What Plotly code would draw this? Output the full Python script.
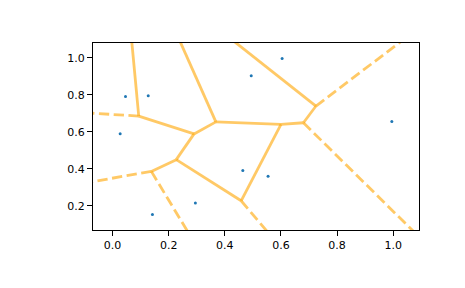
import numpy as np
import plotly.graph_objects as go
from itertools import combinations

# Input sites
px = [0.046, 0.127, 0.027, 0.142, 0.295, 0.604, 0.494, 0.995, 0.464, 0.554]
py = [0.790, 0.795, 0.590, 0.154, 0.215, 0.995, 0.903, 0.655, 0.391, 0.360]
tick_vals = [0.0, 0.2, 0.4, 0.6, 0.8, 1.0]

pts = np.column_stack([px, py]).astype(float)
n = len(pts)


def circumcenter(a, b, c):
    d = 2 * (a[0] * (b[1] - c[1]) + b[0] * (c[1] - a[1]) + c[0] * (a[1] - b[1]))
    if abs(d) < 1e-12:
        return None
    ux = ((a @ a) * (b[1] - c[1]) + (b @ b) * (c[1] - a[1]) + (c @ c) * (a[1] - b[1])) / d
    uy = ((a @ a) * (c[0] - b[0]) + (b @ b) * (a[0] - c[0]) + (c @ c) * (b[0] - a[0])) / d
    return np.array([ux, uy])


# Brute-force Delaunay triangulation
tris, centers = [], []
for i, j, k in combinations(range(n), 3):
    cc = circumcenter(pts[i], pts[j], pts[k])
    if cc is None:
        continue
    r = np.linalg.norm(pts[i] - cc)
    ok = True
    for m in range(n):
        if m in (i, j, k):
            continue
        if np.linalg.norm(pts[m] - cc) < r - 1e-12:
            ok = False
            break
    if ok:
        tris.append((i, j, k))
        centers.append(cc)

edge_tris = {}
for t_idx, (i, j, k) in enumerate(tris):
    for e in ((i, j), (j, k), (i, k)):
        e = tuple(sorted(e))
        edge_tris.setdefault(e, []).append(t_idx)

center = pts.mean(axis=0)
ptp_bound = np.ptp(pts, axis=0)

fin_x, fin_y, inf_x, inf_y = [], [], [], []
for (a, b), tl in edge_tris.items():
    if len(tl) == 2:
        v0, v1 = centers[tl[0]], centers[tl[1]]
        fin_x += [v0[0], v1[0], None]
        fin_y += [v0[1], v1[1], None]
    else:
        v = centers[tl[0]]
        t = pts[b] - pts[a]
        t = t / np.linalg.norm(t)
        nn = np.array([-t[1], t[0]])
        mid = pts[[a, b]].mean(axis=0)
        direction = np.sign(np.dot(mid - center, nn)) * nn
        aspect = abs(ptp_bound.max() / ptp_bound.min())
        far = v + direction * ptp_bound.max() * aspect
        inf_x += [v[0], far[0], None]
        inf_y += [v[1], far[1], None]

line_col = "rgba(255,165,0,0.6)"
fig = go.Figure()
fig.add_trace(go.Scatter(x=fin_x, y=fin_y, mode="lines",
                         line=dict(color=line_col, width=2.8), hoverinfo="skip"))
fig.add_trace(go.Scatter(x=inf_x, y=inf_y, mode="lines",
                         line=dict(color=line_col, width=2.8, dash="10.3px,4.5px"),
                         hoverinfo="skip"))
fig.add_trace(go.Scatter(x=px, y=py, mode="markers",
                         marker=dict(color="#1f77b4", size=3, line=dict(width=0))))

xlim = [min(px) - 0.1 * ptp_bound[0], max(px) + 0.1 * ptp_bound[0]]
ylim = [min(py) - 0.1 * ptp_bound[1], max(py) + 0.1 * ptp_bound[1]]

axis_common = dict(showgrid=False, zeroline=False, showline=True, linecolor="black",
                   linewidth=1.1, mirror=True, ticks="outside", ticklen=5, tickwidth=1.1,
                   tickcolor="black", tickformat=".1f",
                   tickfont=dict(family="DejaVu Sans", size=11, color="black"))
fig.update_xaxes(range=xlim, tickvals=tick_vals, **axis_common)
fig.update_yaxes(range=ylim, tickvals=tick_vals[1:], **axis_common)
fig.update_layout(width=465, height=288, showlegend=False,
                  margin=dict(l=93, r=46, t=43, b=58),
                  plot_bgcolor="white", paper_bgcolor="white")
fig.write_html("out.html")
